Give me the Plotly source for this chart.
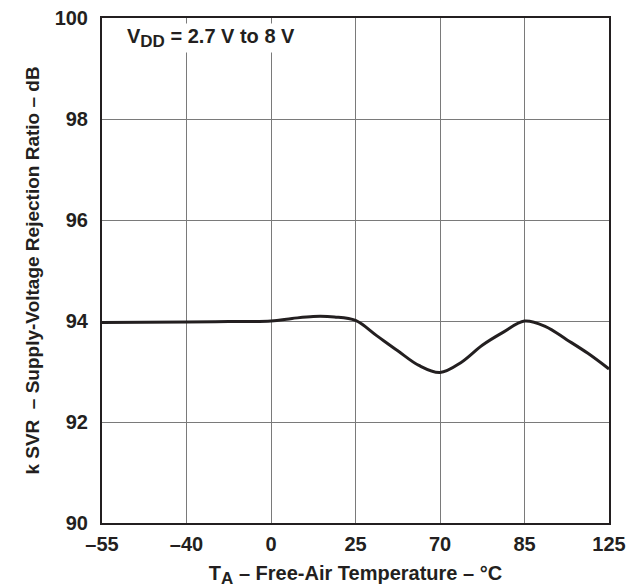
import numpy as np
import plotly.graph_objects as go

# Tick temperatures (equally spaced on the chart, non-linear scale)
tick_temps = [-55, -40, 0, 25, 70, 85, 125]
tick_labels = ["–55", "–40", "0", "25", "70", "85", "125"]
y_ticks = [90, 92, 94, 96, 98, 100]

# Curve: temperature (°C) vs kSVR (dB)
temps = [-55, -40, -20, 0, 6.25, 12.5, 18.75, 25, 36.25, 47.5, 58.75, 70,
         73.75, 77.5, 81.25, 85, 95, 105, 115, 125]
ksvr = [93.97, 93.98, 93.99, 94.0, 94.05, 94.09, 94.08, 94.01, 93.71, 93.41, 93.12, 92.98,
        93.18, 93.52, 93.78, 94.0, 93.89, 93.63, 93.36, 93.05]

# Custom piecewise scale: temperature -> tick index
def tscale(t):
    return np.interp(t, tick_temps, np.arange(len(tick_temps)))

xpos = tscale(np.array(temps, dtype=float))
tick_pos = tscale(np.array(tick_temps, dtype=float))

FONT = "Liberation Sans, Arial, Helvetica, sans-serif"
INK = "#231f20"
FS = 20

fig = go.Figure()
fig.add_trace(go.Scatter(
    x=xpos, y=ksvr, mode="lines",
    line=dict(color=INK, width=3, shape="spline", smoothing=1.0),
    hoverinfo="skip", showlegend=False,
))

# page body has an 8px margin, so the figure is offset by (8, 8)
fig.update_layout(
    width=626, height=580,
    margin=dict(l=94, r=25, t=10, b=65, autoexpand=False),
    paper_bgcolor="white", plot_bgcolor="white",
    font=dict(family=FONT, size=FS, color=INK, weight="bold"),
    xaxis=dict(
        range=[tick_pos[0], tick_pos[-1]], automargin=False,
        tickmode="array", tickvals=tick_pos, ticktext=tick_labels,
        tickfont=dict(size=FS), ticklabeloverflow="allow",
        showgrid=True, gridcolor="#7a7a7a", gridwidth=1,
        showline=True, linecolor=INK, linewidth=2, mirror=True,
        zeroline=False, ticks="", ticklabelstandoff=2,
        title=dict(text="T<sub><span style='font-size:17px'>A</span></sub> – Free-Air Temperature – °C",
                   font=dict(size=FS, family=FONT, weight="bold"), standoff=12),
    ),
    yaxis=dict(
        range=[90, 100], automargin=False,
        tickmode="array", tickvals=y_ticks,
        tickfont=dict(size=FS), ticklabeloverflow="allow",
        showgrid=True, gridcolor="#7a7a7a", gridwidth=1,
        showline=True, linecolor=INK, linewidth=2, mirror=True,
        zeroline=False, ticks="", ticklabelstandoff=8,
        title=dict(text="k SVR  – Supply-Voltage Rejection Ratio – dB",
                   font=dict(size=19, family=FONT, weight="bold"), standoff=10),
    ),
    annotations=[dict(
        xref="paper", yref="paper", x=0.045, y=0.99, xanchor="left", yanchor="top",
        text="V<sub><span style='font-size:17px'>DD</span></sub> = 2.7 V to 8 V", showarrow=False,
        font=dict(size=FS, family=FONT, weight="bold", color=INK),
        bgcolor="white",
    )],
)

fig.write_html("out.html")
